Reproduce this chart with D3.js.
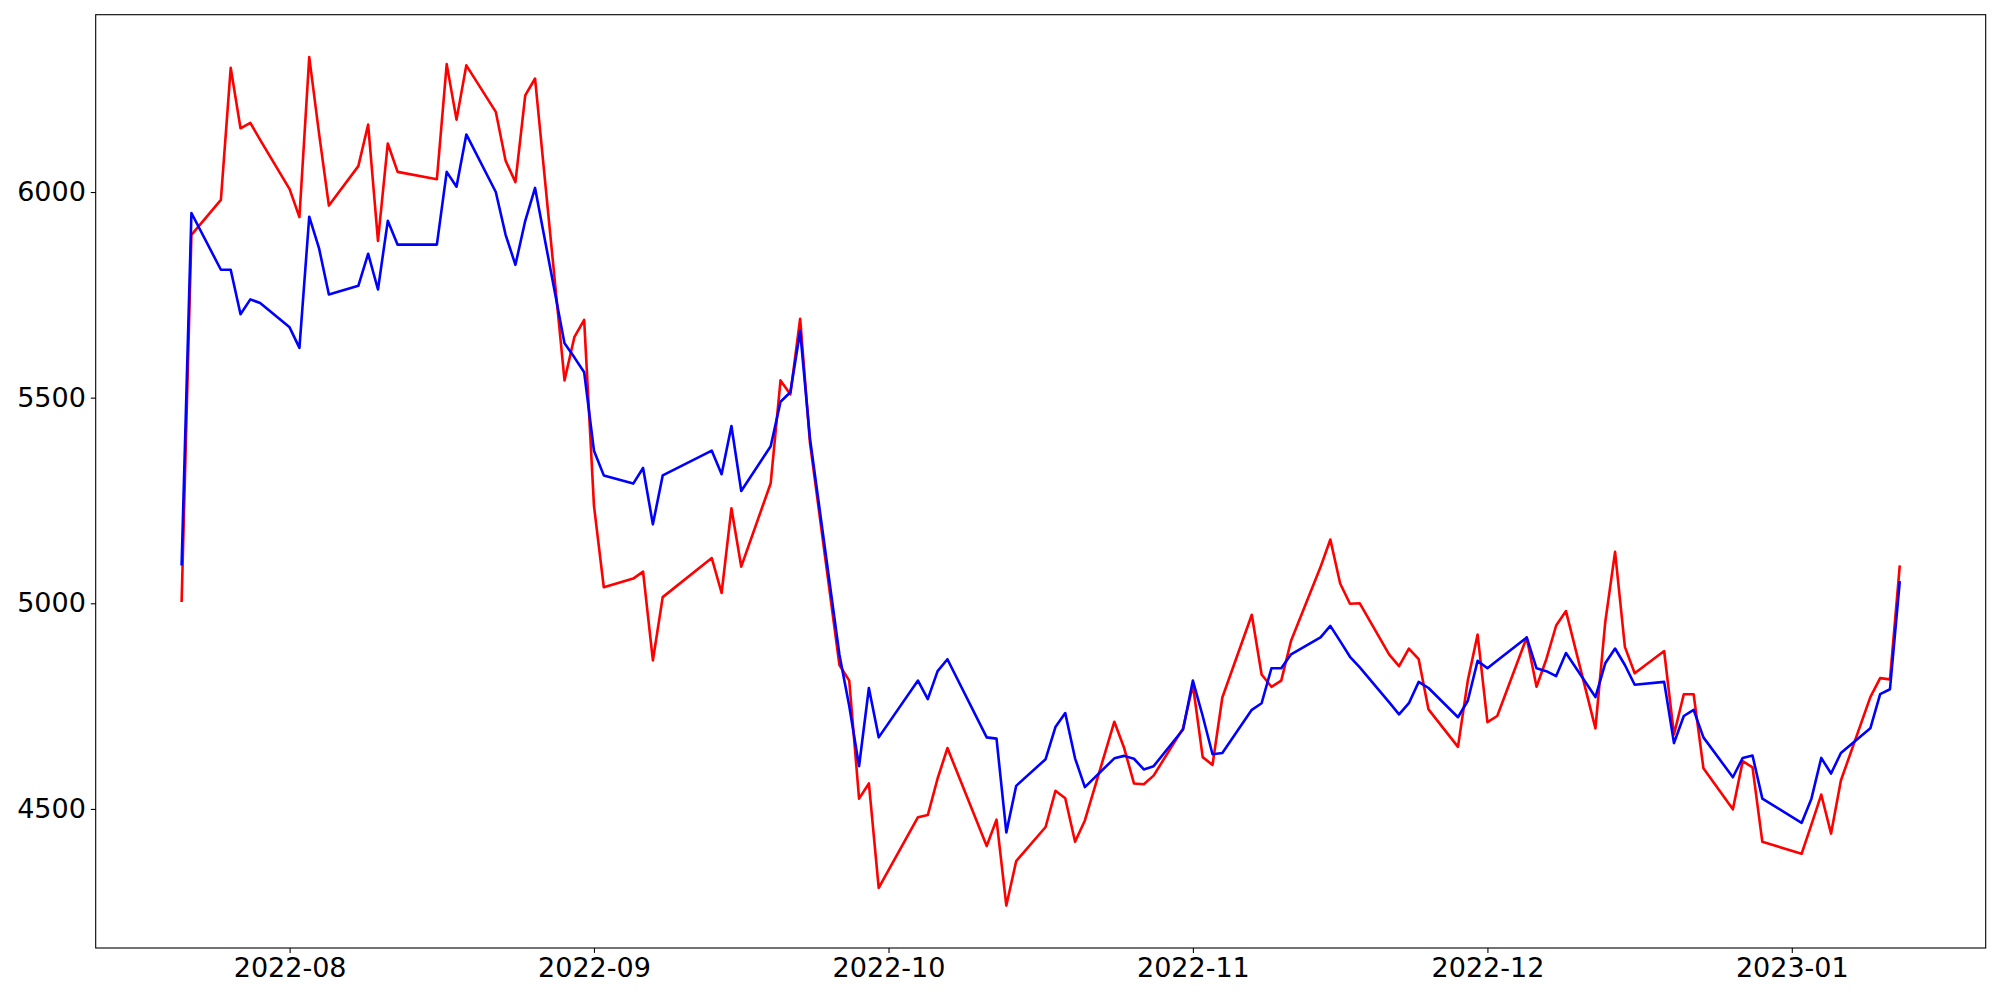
<!DOCTYPE html>
<html>
<head>
<meta charset="utf-8">
<script src="https://cdn.jsdelivr.net/npm/d3@7"></script>
<style>
  html, body { margin: 0; padding: 0; background: #fff; }
  svg { display: block; }
  text { font-family: "DejaVu Sans", sans-serif; }
</style>
</head>
<body>
<svg id="chart" width="2000" height="1000"></svg>
<script>
// ---- data ----
const dates = [
  "2022-07-21","2022-07-22","2022-07-25","2022-07-26","2022-07-27","2022-07-28","2022-07-29",
  "2022-08-01","2022-08-02","2022-08-03","2022-08-04","2022-08-05",
  "2022-08-08","2022-08-09","2022-08-10","2022-08-11","2022-08-12",
  "2022-08-16","2022-08-17","2022-08-18","2022-08-19",
  "2022-08-22","2022-08-23","2022-08-24","2022-08-25","2022-08-26",
  "2022-08-29","2022-08-30","2022-08-31","2022-09-01","2022-09-02",
  "2022-09-05","2022-09-06","2022-09-07","2022-09-08",
  "2022-09-13","2022-09-14","2022-09-15","2022-09-16",
  "2022-09-19","2022-09-20","2022-09-21","2022-09-22","2022-09-23",
  "2022-09-26","2022-09-27","2022-09-28","2022-09-29","2022-09-30",
  "2022-10-04","2022-10-05","2022-10-06","2022-10-07",
  "2022-10-11","2022-10-12","2022-10-13","2022-10-14",
  "2022-10-17","2022-10-18","2022-10-19","2022-10-20","2022-10-21",
  "2022-10-24","2022-10-25","2022-10-26","2022-10-27","2022-10-28",
  "2022-10-31","2022-11-01","2022-11-02","2022-11-03","2022-11-04",
  "2022-11-07","2022-11-08","2022-11-09","2022-11-10","2022-11-11",
  "2022-11-14","2022-11-15","2022-11-16","2022-11-17","2022-11-18",
  "2022-11-21","2022-11-22","2022-11-23","2022-11-24","2022-11-25",
  "2022-11-28","2022-11-29","2022-11-30","2022-12-01","2022-12-02",
  "2022-12-05","2022-12-06","2022-12-07","2022-12-08","2022-12-09",
  "2022-12-12","2022-12-13","2022-12-14","2022-12-15","2022-12-16",
  "2022-12-19","2022-12-20","2022-12-21","2022-12-22","2022-12-23",
  "2022-12-26","2022-12-27","2022-12-28","2022-12-29",
  "2023-01-02","2023-01-03","2023-01-04","2023-01-05","2023-01-06",
  "2023-01-09","2023-01-10","2023-01-11","2023-01-12"
];

const redValues = [
  5003, 5896, 5981, 6302, 6155, 6168, 6127,
  6007, 5939, 6328, 6142, 5967,
  6063, 6164, 5881, 6118, 6049,
  6031, 6311, 6176, 6308,
  6195, 6076, 6024, 6235, 6276,
  5542, 5647, 5689, 5237, 5039,
  5060, 5077, 4861, 5015,
  5110, 5025, 5231, 5089,
  5292, 5542, 5508, 5692, 5390,
  4850, 4812, 4525, 4562, 4308,
  4480, 4485, 4574, 4648,
  4410, 4474, 4265, 4373,
  4456, 4544, 4526, 4420, 4472,
  4712, 4648, 4562, 4560, 4581,
  4696, 4802, 4626, 4607, 4771,
  4972, 4827, 4797, 4812, 4909,
  5088, 5155, 5048, 4999, 5000,
  4875, 4847, 4890, 4864, 4742,
  4651, 4812, 4924, 4711, 4726,
  4917, 4797, 4864, 4946, 4981,
  4696, 4954, 5125, 4894, 4830,
  4884, 4681, 4779, 4779, 4599,
  4499, 4616, 4601, 4420,
  4391, 4462, 4535, 4440, 4569,
  4772, 4818, 4815, 5092
];

const blueValues = [
  5092, 5949, 5811, 5811, 5703, 5739, 5730,
  5671, 5621, 5940, 5863, 5751,
  5772, 5850, 5763, 5930, 5872,
  5872, 6049, 6013, 6140,
  6000, 5896, 5823, 5930, 6010,
  5632, 5598, 5562, 5371, 5311,
  5291, 5329, 5192, 5311,
  5371, 5314, 5431, 5273,
  5382, 5490, 5513, 5662, 5401,
  4875, 4750, 4604, 4794, 4674,
  4812, 4767, 4835, 4864,
  4674, 4671, 4443, 4556,
  4621, 4699, 4733, 4623, 4553,
  4623, 4629, 4622, 4596, 4604,
  4693, 4812, 4726, 4633, 4636,
  4741, 4757, 4842, 4842, 4876,
  4917, 4945, 4908, 4870, 4844,
  4759, 4730, 4757, 4809, 4794,
  4723, 4763, 4860, 4842, 4861,
  4917, 4842, 4835, 4823, 4879,
  4772, 4854, 4890, 4850, 4802,
  4809, 4660, 4726, 4741, 4674,
  4577, 4624, 4630, 4525,
  4466, 4525, 4624, 4586, 4636,
  4696, 4779, 4791, 5054
];

const xTickDates = ["2022-08-01","2022-09-01","2022-10-01","2022-11-01","2022-12-01","2023-01-01"];
const xTickLabels = ["2022-08","2022-09","2022-10","2022-11","2022-12","2023-01"];
const yTickValues = [4500, 5000, 5500, 6000];

// ---- layout ----
const W = 2000, H = 1000;
const plot = { left: 95.7, top: 14.7, right: 1985.7, bottom: 948 };

const parse = d3.timeParse("%Y-%m-%d");
const dateObjs = dates.map(parse);

const xExt = d3.extent(dateObjs);
const xSpan = xExt[1] - xExt[0];
const x = d3.scaleTime()
  .domain([new Date(+xExt[0] - 0.05 * xSpan), new Date(+xExt[1] + 0.05 * xSpan)])
  .range([plot.left, plot.right]);

const allVals = redValues.concat(blueValues);
const yMin = d3.min(allVals), yMax = d3.max(allVals);
const ySpan = yMax - yMin;
const y = d3.scaleLinear()
  .domain([yMin - 0.05 * ySpan, yMax + 0.05 * ySpan])
  .range([plot.bottom, plot.top]);

const svg = d3.select("#chart");

const redData = dateObjs.map((d, i) => ({ d, v: redValues[i] }));
const blueData = dateObjs.map((d, i) => ({ d, v: blueValues[i] }));

const line = d3.line().x(p => x(p.d)).y(p => y(p.v));

svg.append("clipPath").attr("id", "clip")
  .append("rect")
  .attr("x", plot.left).attr("y", plot.top)
  .attr("width", plot.right - plot.left).attr("height", plot.bottom - plot.top);

const g = svg.append("g").attr("clip-path", "url(#clip)");
g.append("path").datum(redData)
  .attr("d", line).attr("fill", "none")
  .attr("stroke", "#ff0000").attr("stroke-width", 2.6)
  .attr("stroke-linejoin", "round").attr("stroke-linecap", "butt");
g.append("path").datum(blueData)
  .attr("d", line).attr("fill", "none")
  .attr("stroke", "#0000ff").attr("stroke-width", 2.6)
  .attr("stroke-linejoin", "round").attr("stroke-linecap", "butt");

// axes
const xAxis = d3.axisBottom(x)
  .tickValues(xTickDates.map(parse))
  .tickFormat((d, i) => xTickLabels[i])
  .tickSizeOuter(0).tickSize(4.9).tickPadding(4.9);
const yAxis = d3.axisLeft(y)
  .tickValues(yTickValues)
  .tickFormat(d3.format("d"))
  .tickSizeOuter(0).tickSize(4.9).tickPadding(4.9);

const gx = svg.append("g").attr("transform", `translate(0,${plot.bottom})`).call(xAxis);
const gy = svg.append("g").attr("transform", `translate(${plot.left},0)`).call(yAxis);
[gx, gy].forEach(a => {
  a.select(".domain").remove();
  a.selectAll(".tick line").attr("stroke", "#000").attr("stroke-width", 1.1);
  a.selectAll(".tick text")
    .attr("fill", "#000")
    .style("font-family", "'DejaVu Sans', sans-serif")
    .style("font-size", "27px");
});

// frame (spines)
svg.append("rect")
  .attr("x", plot.left).attr("y", plot.top)
  .attr("width", plot.right - plot.left).attr("height", plot.bottom - plot.top)
  .attr("fill", "none").attr("stroke", "#000").attr("stroke-width", 1.1);
</script>
</body>
</html>
